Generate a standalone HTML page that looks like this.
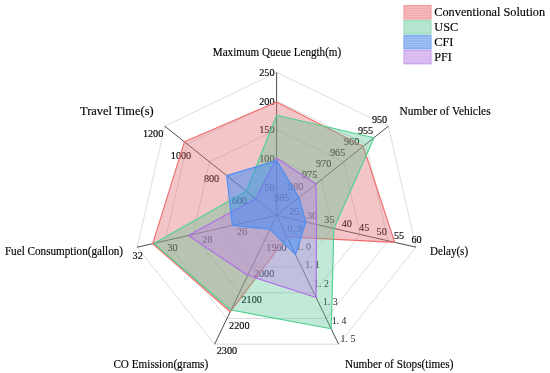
<!DOCTYPE html>
<html><head><meta charset="utf-8"><title>Radar</title>
<style>
html,body{margin:0;padding:0;background:#fff;}
body{width:550px;height:373px;overflow:hidden;position:relative;font-family:"Liberation Serif",serif;}
svg{position:absolute;left:0;top:0;}
text{font-family:"Liberation Serif",serif;fill:#000;stroke:#000;stroke-width:0.15px;}
.tk{font-size:10.2px;}
.st{font-size:9.8px;fill:#222;stroke:none;}
.ax{font-size:11.15px;}
.lg{font-size:12.2px;}
</style></head><body>
<svg width="550" height="373" viewBox="0 0 550 373">
<defs>

<pattern id="hred" width="2" height="2" patternUnits="userSpaceOnUse"><rect width="2" height="2" fill="rgba(225,110,115,0.39)"/><rect width="2" height="0.6" y="0" fill="#f26d6d" opacity="0.06"/></pattern>
<pattern id="hgreen" width="2" height="2" patternUnits="userSpaceOnUse"><rect width="2" height="2" fill="rgba(80,190,140,0.34)"/><rect width="2" height="0.6" y="0" fill="#4fd18f" opacity="0.06"/></pattern>
<pattern id="hblue" width="2" height="2" patternUnits="userSpaceOnUse"><rect width="2" height="2" fill="rgba(55,135,248,0.50)"/><rect width="2" height="0.6" y="0" fill="#4a8ff5" opacity="0.06"/></pattern>
<pattern id="hpurple" width="2" height="2" patternUnits="userSpaceOnUse"><rect width="2" height="2" fill="rgba(195,125,235,0.38)"/><rect width="2" height="0.6" y="0" fill="#b06de6" opacity="0.06"/></pattern>
</defs>
<polygon points="276.6,186.8 299.0,197.6 304.5,221.8 289.0,241.2 264.2,241.2 248.7,221.8 254.2,197.6" fill="none" stroke="#c6c6c6" stroke-width="0.6"/>
<polygon points="276.6,158.2 321.3,179.7 332.4,228.1 301.4,266.9 251.8,266.9 220.8,228.1 231.9,179.7" fill="none" stroke="#c6c6c6" stroke-width="0.6"/>
<polygon points="276.6,129.6 343.7,161.9 360.2,234.5 313.8,292.7 239.4,292.7 193.0,234.5 209.5,161.9" fill="none" stroke="#c6c6c6" stroke-width="0.6"/>
<polygon points="276.6,101.0 366.0,144.1 388.1,240.9 326.2,318.5 227.0,318.5 165.1,240.9 187.2,144.1" fill="none" stroke="#c6c6c6" stroke-width="0.6"/>
<polygon points="276.6,72.4 388.4,126.2 416.0,247.2 338.6,344.2 214.6,344.2 137.2,247.2 164.8,126.2" fill="none" stroke="#c6c6c6" stroke-width="0.6"/>
<line x1="276.6" y1="215.4" x2="276.6" y2="72.4" stroke="#3a3a3a" stroke-width="0.9"/>
<line x1="276.6" y1="215.4" x2="388.4" y2="126.2" stroke="#3a3a3a" stroke-width="0.9"/>
<line x1="276.6" y1="215.4" x2="416.0" y2="247.2" stroke="#3a3a3a" stroke-width="0.9"/>
<line x1="276.6" y1="215.4" x2="338.6" y2="344.2" stroke="#3a3a3a" stroke-width="0.9"/>
<line x1="276.6" y1="215.4" x2="214.6" y2="344.2" stroke="#3a3a3a" stroke-width="0.9"/>
<line x1="276.6" y1="215.4" x2="137.2" y2="247.2" stroke="#3a3a3a" stroke-width="0.9"/>
<line x1="276.6" y1="215.4" x2="164.8" y2="126.2" stroke="#3a3a3a" stroke-width="0.9"/>
<text class="tk" x="274.5" y="190.5" text-anchor="end">50</text>
<text class="tk" x="274.5" y="161.9" text-anchor="end">100</text>
<text class="tk" x="274.5" y="133.3" text-anchor="end">150</text>
<text class="tk" x="274.5" y="104.7" text-anchor="end">200</text>
<text class="tk" x="274.5" y="76.1" text-anchor="end">250</text>
<text class="tk" x="289.4" y="200.7" text-anchor="end">985</text>
<text class="tk" x="303.4" y="189.5" text-anchor="end">980</text>
<text class="tk" x="317.3" y="178.4" text-anchor="end">975</text>
<text class="tk" x="331.3" y="167.2" text-anchor="end">970</text>
<text class="tk" x="345.3" y="156.1" text-anchor="end">965</text>
<text class="tk" x="359.3" y="144.9" text-anchor="end">960</text>
<text class="tk" x="373.2" y="133.8" text-anchor="end">955</text>
<text class="tk" x="387.2" y="122.6" text-anchor="end">950</text>
<text class="tk" x="294.5" y="214.8" text-anchor="middle">25</text>
<text class="tk" x="312.0" y="218.8" text-anchor="middle">30</text>
<text class="tk" x="329.4" y="222.7" text-anchor="middle">35</text>
<text class="tk" x="346.8" y="226.7" text-anchor="middle">40</text>
<text class="tk" x="364.2" y="230.7" text-anchor="middle">45</text>
<text class="tk" x="381.7" y="234.7" text-anchor="middle">50</text>
<text class="tk" x="399.1" y="238.6" text-anchor="middle">55</text>
<text class="tk" x="416.5" y="242.6" text-anchor="middle">60</text>
<text class="tk st" x="287.5" y="231.5" text-anchor="start">0. 9</text>
<text class="tk st" x="296.3" y="249.9" text-anchor="start">1. 0</text>
<text class="tk st" x="305.2" y="268.3" text-anchor="start">1. 1</text>
<text class="tk st" x="314.1" y="286.7" text-anchor="start">1. 2</text>
<text class="tk st" x="322.9" y="305.1" text-anchor="start">1. 3</text>
<text class="tk st" x="331.8" y="323.5" text-anchor="start">1. 4</text>
<text class="tk st" x="340.6" y="341.9" text-anchor="start">1. 5</text>
<text class="tk" x="266.3" y="251.2" text-anchor="start">1900</text>
<text class="tk" x="253.9" y="276.9" text-anchor="start">2000</text>
<text class="tk" x="241.5" y="302.7" text-anchor="start">2100</text>
<text class="tk" x="229.1" y="328.5" text-anchor="start">2200</text>
<text class="tk" x="216.7" y="354.2" text-anchor="start">2300</text>
<text class="tk" x="242.2" y="235.3" text-anchor="middle">26</text>
<text class="tk" x="207.4" y="243.2" text-anchor="middle">28</text>
<text class="tk" x="172.5" y="251.2" text-anchor="middle">30</text>
<text class="tk" x="137.7" y="259.1" text-anchor="middle">32</text>
<text class="tk" x="247.1" y="204.0" text-anchor="end">600</text>
<text class="tk" x="219.2" y="181.7" text-anchor="end">800</text>
<text class="tk" x="191.2" y="159.4" text-anchor="end">1000</text>
<text class="tk" x="163.3" y="137.1" text-anchor="end">1200</text>
<polygon points="276.6,102.0 363.2,146.3 394.7,242.4 287.0,236.9 230.2,311.8 152.7,243.7 184.4,141.8" fill="url(#hred)" stroke="#f26d6d" stroke-width="1.15" stroke-linejoin="round"/>
<polygon points="276.6,115.3 374.0,137.7 333.9,228.5 331.2,328.8 231.1,310.0 153.9,243.4 246.4,191.3" fill="url(#hgreen)" stroke="#4fd18f" stroke-width="1.15" stroke-linejoin="round"/>
<polygon points="276.6,158.2 316.0,184.0 316.5,224.5 316.1,297.5 247.7,275.3 188.4,235.5 255.7,198.7" fill="url(#hpurple)" stroke="#b06de6" stroke-width="1.15" stroke-linejoin="round"/>
<polygon points="276.6,160.6 299.0,197.6 305.9,222.1 295.5,254.6 269.9,229.3 232.4,225.5 226.7,175.6" fill="url(#hblue)" stroke="#4a8ff5" stroke-width="1.15" stroke-linejoin="round"/>
<text x="212.8" y="56.3" font-size="12.0" textLength="128.4" lengthAdjust="spacingAndGlyphs">Maximum Queue Length(m)</text>
<text x="399.6" y="115.4" font-size="12.0" textLength="91.0" lengthAdjust="spacingAndGlyphs">Number of Vehicles</text>
<text x="430.1" y="254.9" font-size="12.0" textLength="38.0" lengthAdjust="spacingAndGlyphs">Delay(s)</text>
<text x="344.9" y="367.7" font-size="12.0" textLength="108.5" lengthAdjust="spacingAndGlyphs">Number of Stops(times)</text>
<text x="113.4" y="368.0" font-size="12.0" textLength="94.8" lengthAdjust="spacingAndGlyphs">CO Emission(grams)</text>
<text x="4.9" y="254.6" font-size="12.0" textLength="118.2" lengthAdjust="spacingAndGlyphs">Fuel Consumption(gallon)</text>
<text x="80.0" y="115.1" font-size="13.5" textLength="73.6" lengthAdjust="spacingAndGlyphs">Travel Time(s)</text>
<rect x="403.9" y="5.40" width="27.2" height="13.7" fill="#f2acb0" stroke="#f0969b" stroke-width="0.8"/>
<line x1="404.6" x2="430.4" y1="7.68" y2="7.68" stroke="#fff" stroke-width="0.5" opacity="0.45"/>
<line x1="404.6" x2="430.4" y1="9.96" y2="9.96" stroke="#fff" stroke-width="0.5" opacity="0.45"/>
<line x1="404.6" x2="430.4" y1="12.24" y2="12.24" stroke="#fff" stroke-width="0.5" opacity="0.45"/>
<line x1="404.6" x2="430.4" y1="14.52" y2="14.52" stroke="#fff" stroke-width="0.5" opacity="0.45"/>
<line x1="404.6" x2="430.4" y1="16.80" y2="16.80" stroke="#fff" stroke-width="0.5" opacity="0.45"/>
<text x="434.3" y="15.9" font-size="13.5" textLength="110.8" lengthAdjust="spacingAndGlyphs">Conventional Solution</text>
<rect x="403.9" y="20.35" width="27.2" height="13.7" fill="#ace4ca" stroke="#8cd7b4" stroke-width="0.8"/>
<line x1="404.6" x2="430.4" y1="22.63" y2="22.63" stroke="#fff" stroke-width="0.5" opacity="0.45"/>
<line x1="404.6" x2="430.4" y1="24.91" y2="24.91" stroke="#fff" stroke-width="0.5" opacity="0.45"/>
<line x1="404.6" x2="430.4" y1="27.19" y2="27.19" stroke="#fff" stroke-width="0.5" opacity="0.45"/>
<line x1="404.6" x2="430.4" y1="29.47" y2="29.47" stroke="#fff" stroke-width="0.5" opacity="0.45"/>
<line x1="404.6" x2="430.4" y1="31.75" y2="31.75" stroke="#fff" stroke-width="0.5" opacity="0.45"/>
<text x="434.3" y="30.9" font-size="13.5" textLength="23.8" lengthAdjust="spacingAndGlyphs">USC</text>
<rect x="403.9" y="35.30" width="27.2" height="13.7" fill="#8cb4f0" stroke="#6ea0f0" stroke-width="0.8"/>
<line x1="404.6" x2="430.4" y1="37.58" y2="37.58" stroke="#fff" stroke-width="0.5" opacity="0.45"/>
<line x1="404.6" x2="430.4" y1="39.86" y2="39.86" stroke="#fff" stroke-width="0.5" opacity="0.45"/>
<line x1="404.6" x2="430.4" y1="42.14" y2="42.14" stroke="#fff" stroke-width="0.5" opacity="0.45"/>
<line x1="404.6" x2="430.4" y1="44.42" y2="44.42" stroke="#fff" stroke-width="0.5" opacity="0.45"/>
<line x1="404.6" x2="430.4" y1="46.70" y2="46.70" stroke="#fff" stroke-width="0.5" opacity="0.45"/>
<text x="434.3" y="45.8" font-size="13.5" textLength="19.0" lengthAdjust="spacingAndGlyphs">CFI</text>
<rect x="403.9" y="50.25" width="27.2" height="13.7" fill="#d7b6f0" stroke="#c896eb" stroke-width="0.8"/>
<line x1="404.6" x2="430.4" y1="52.53" y2="52.53" stroke="#fff" stroke-width="0.5" opacity="0.45"/>
<line x1="404.6" x2="430.4" y1="54.81" y2="54.81" stroke="#fff" stroke-width="0.5" opacity="0.45"/>
<line x1="404.6" x2="430.4" y1="57.09" y2="57.09" stroke="#fff" stroke-width="0.5" opacity="0.45"/>
<line x1="404.6" x2="430.4" y1="59.37" y2="59.37" stroke="#fff" stroke-width="0.5" opacity="0.45"/>
<line x1="404.6" x2="430.4" y1="61.65" y2="61.65" stroke="#fff" stroke-width="0.5" opacity="0.45"/>
<text x="434.3" y="60.7" font-size="13.5" textLength="17.6" lengthAdjust="spacingAndGlyphs">PFI</text>
</svg></body></html>
